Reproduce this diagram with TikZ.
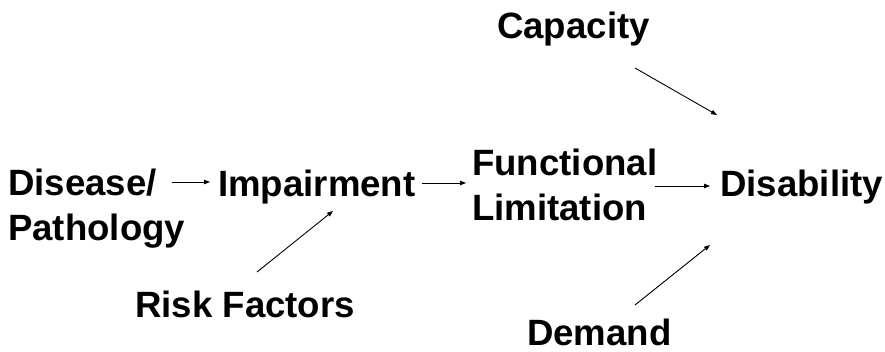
\documentclass[tikz,border=0pt]{standalone}
\usepackage{fontspec}
\setmainfont{Liberation Sans}
\usetikzlibrary{arrows.meta}
\begin{document}
\begin{tikzpicture}[x=1pt,y=1pt,
  lbl/.style={inner sep=0pt,font=\fontsize{36.6}{44.5}\selectfont\bfseries,align=left},
  arr/.style={line width=0.9pt,-{Triangle[length=6pt,width=4.5pt]}}]
\useasboundingbox (0,0) rectangle (885,351);
\node[lbl,anchor=base west] (dis) at (8,111) {Disease/\\Pathology};
\node[lbl,anchor=base west] (imp) at (218,155) {Impairment};
\node[lbl,anchor=base west] (fun) at (472,131) {Functional\\Limitation};
\node[lbl,anchor=base west] (disab) at (720,155) {Disability};
\node[lbl,anchor=base west] (cap) at (497,312) {Capacity};
\node[lbl,anchor=base west] (risk) at (135,34) {Risk Factors};
\node[lbl,anchor=base west] (dem) at (527,6) {Demand};
\draw[arr] ([shift={(-46,14)}]imp.base west) -- ([shift={(-8,14)}]imp.base west);
\draw[arr] ([shift={(204,13)}]imp.base west) -- ([shift={(248,13)}]imp.base west);
\draw[arr] ([shift={(-65,10)}]disab.base west) -- ([shift={(-10,10)}]disab.base west);
\draw[arr] ([shift={(138,-29)}]cap.base west) -- ([shift={(-3,81)}]disab.base west);
\draw[arr] ([shift={(122,45)}]risk.base west) -- ([shift={(115,-15)}]imp.base west);
\draw[arr] ([shift={(108,40)}]dem.base west) -- ([shift={(-10,-49)}]disab.base west);
\end{tikzpicture}
\end{document}
